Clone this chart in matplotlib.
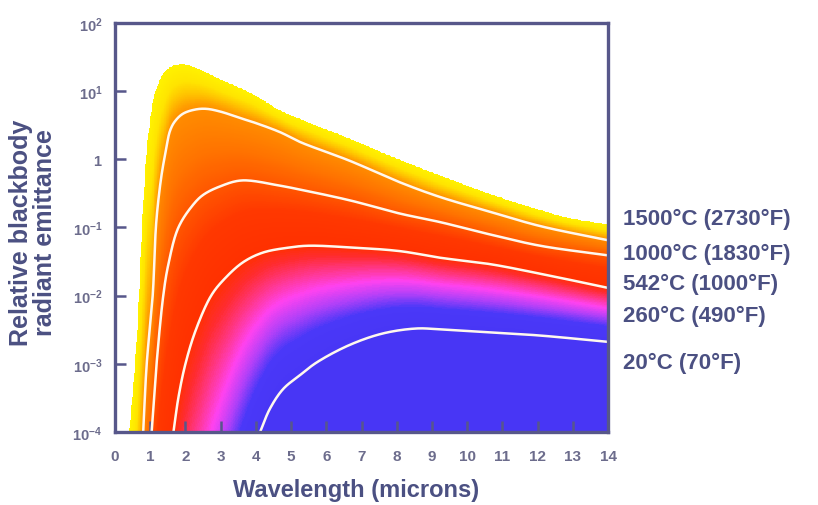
import numpy as np
import matplotlib
matplotlib.use("Agg")
import matplotlib.pyplot as plt
from matplotlib.colors import LinearSegmentedColormap
from matplotlib.ticker import NullLocator

# ---------------- data ----------------
lam_1500 = [0.40, 0.57, 0.68, 0.77, 0.88, 0.98, 1.08, 1.18, 1.37, 1.60, 1.95, 2.30, 2.98,
            3.90, 4.69, 5.25, 6.67, 8.09, 9.23, 10.65, 12.07, 12.83, 14.0]
emit_1500 = [1.0e-4, 1.0e-3, 1.0e-2, 0.10, 1.0, 3.2, 7.1, 11, 18, 23, 25, 22, 15,
             9.1, 5.2, 3.9, 2.0, 0.98, 0.58, 0.31, 0.18, 0.14, 0.11]

lam_1000 = [0.80, 0.90, 1.07, 1.16, 1.23, 1.33, 1.45, 1.56, 1.70, 1.94, 2.30, 2.60, 3.00,
            3.64, 3.93, 4.69, 5.25, 6.67, 8.09, 9.23, 10.65, 12.07, 14.0]
emit_1000 = [1e-4, 1e-3, 1e-2, 0.10, 0.25, 0.63, 1.4, 2.6, 3.6, 4.7, 5.4, 5.5, 5.0,
             3.9, 3.5, 2.5, 1.8, 0.95, 0.46, 0.28, 0.17, 0.105, 0.065]

lam_542 = [1.04, 1.18, 1.37, 1.51, 1.80, 2.20, 2.50, 2.98, 3.60, 4.69, 5.25, 6.67, 8.09,
           9.23, 10.65, 12.07, 14.0]
emit_542 = [1e-4, 1e-3, 1e-2, 0.028, 0.10, 0.21, 0.30, 0.40, 0.49, 0.41, 0.36, 0.25, 0.16,
            0.12, 0.079, 0.054, 0.039]

lam_260 = [1.66, 1.80, 2.00, 2.30, 2.73, 3.08, 3.64, 4.21, 4.97, 5.50, 6.67, 8.09, 9.23,
           10.65, 12.07, 14.0]
emit_260 = [1e-4, 3.2e-4, 1e-3, 3.2e-3, 1e-2, 0.017, 0.031, 0.043, 0.051, 0.054, 0.051,
            0.045, 0.036, 0.029, 0.021, 0.013]

lam_20 = [4.12, 4.40, 4.78, 5.25, 5.73, 6.67, 7.62, 8.57, 9.23, 10.65, 12.07, 14.0]
emit_20 = [1e-4, 2.2e-4, 4.3e-4, 6.8e-4, 1.05e-3, 1.9e-3, 2.8e-3, 3.3e-3, 3.2e-3,
           2.9e-3, 2.6e-3, 2.1e-3]

curve_labels = ["1500°C (2730°F)", "1000°C (1830°F)", "542°C (1000°F)",
                "260°C (490°F)", "20°C (70°F)"]
x_ticks = list(range(0, 15))
y_ticks = [1e-4, 1e-3, 1e-2, 1e-1, 1, 1e1, 1e2]
y_tick_labels = [r"$10^{-4}$", r"$10^{-3}$", r"$10^{-2}$", r"$10^{-1}$", r"$1$",
                 r"$10^{1}$", r"$10^{2}$"]

# ---------------- style ----------------
plt.rcParams["font.family"] = ["Liberation Sans", "DejaVu Sans"]
plt.rcParams["font.weight"] = "bold"
plt.rcParams["mathtext.fontset"] = "custom"
plt.rcParams["mathtext.rm"] = "Liberation Sans:bold"
plt.rcParams["mathtext.bf"] = "Liberation Sans:bold"
plt.rcParams["mathtext.default"] = "bf"

FRAME = "#57578a"
TEXT = "#4b5082"
TICKTXT = "#6c6c8c"

curves = [(lam_1500, emit_1500), (lam_1000, emit_1000), (lam_542, emit_542),
          (lam_260, emit_260), (lam_20, emit_20)]


def smooth(lam, emit, n=24):
    """Centripetal Catmull-Rom line through the read points (x, log10 y)."""
    P = np.column_stack([np.asarray(lam, float) / 14.0,
                         np.log10(np.asarray(emit, float)) / 6.0])
    P = np.vstack([2 * P[0] - P[1], P, 2 * P[-1] - P[-2]])
    out = []
    for i in range(1, len(P) - 2):
        p0, p1, p2, p3 = P[i - 1], P[i], P[i + 1], P[i + 2]
        t0 = 0.0
        t1 = t0 + np.linalg.norm(p1 - p0) ** 0.5
        t2 = t1 + np.linalg.norm(p2 - p1) ** 0.5
        t3 = t2 + np.linalg.norm(p3 - p2) ** 0.5
        t = np.linspace(t1, t2, n, endpoint=False)[:, None]
        a1 = (t1 - t) / (t1 - t0) * p0 + (t - t0) / (t1 - t0) * p1
        a2 = (t2 - t) / (t2 - t1) * p1 + (t - t1) / (t2 - t1) * p2
        a3 = (t3 - t) / (t3 - t2) * p2 + (t - t2) / (t3 - t2) * p3
        b1 = (t2 - t) / (t2 - t0) * a1 + (t - t0) / (t2 - t0) * a2
        b2 = (t3 - t) / (t3 - t1) * a2 + (t - t1) / (t3 - t1) * a3
        out.append((t2 - t) / (t2 - t1) * b1 + (t - t1) / (t2 - t1) * b2)
    out.append(P[-2][None, :])
    Q = np.vstack(out)
    return Q[:, 0] * 14.0, Q[:, 1] * 6.0  # x, log10(y)


smoothed = [smooth(l, e) for l, e in curves]

fig = plt.figure(figsize=(8.18, 5.06), dpi=100)
ax = fig.add_axes([0.1406, 0.1443, 0.6027, 0.8083])
ax.set_yscale("log")
ax.set_xlim(0, 14)
ax.set_ylim(1e-4, 1e2)

# ---------------- gradient fill (colour by band between curves) ----------------
nx, ny = 700, 600
xe = np.linspace(0, 14, nx + 1)
le = np.linspace(-4, 2, ny + 1)
xc = 0.5 * (xe[:-1] + xe[1:])
lc = 0.5 * (le[:-1] + le[1:])


def curve_log_at(sx, sl, xs):
    order = np.argsort(sx)
    sx, sl = sx[order], sl[order]
    out = np.interp(xs, sx, sl)
    s = (sl[5] - sl[0]) / max(sx[5] - sx[0], 1e-6)
    d = np.clip(sx[0] - xs, 0, None)
    ext = sl[0] - s * d - 0.8 * d ** 2  # below-axis continuation, shading only
    return np.where(xs < sx[0], ext, out)


C = np.array([curve_log_at(sx, sl, xc) for sx, sl in smoothed])
for k in range(1, 5):
    C[k] = np.minimum(C[k], C[k - 1] - 1e-6)

level = np.full((ny, nx), np.nan)
for j in range(nx):
    level[:, j] = np.interp(lc, C[::-1, j], [4, 3, 2, 1, 0], left=4, right=np.nan)

stops = [(0.0, "#fff200"), (0.35, "#ffe400"), (0.6, "#ffc600"), (0.85, "#ffa000"),
         (1.0, "#ff8c00"), (1.5, "#ff7400"), (2.0, "#ff5600"), (2.4, "#ff3800"),
         (3.0, "#ff3000"), (3.1, "#ff2c30"), (3.38, "#ff42f0"), (3.55, "#b040f8"),
         (3.72, "#4a38f8"), (4.0, "#4836f5")]
cmap = LinearSegmentedColormap.from_list("bb", [(p / 4.0, c) for p, c in stops])
ax.pcolormesh(xe, 10 ** le, np.ma.masked_invalid(level), cmap=cmap, vmin=0, vmax=4,
              shading="flat", rasterized=True, zorder=1)

# ---------------- white temperature curves ----------------
for sx, sl in smoothed[1:]:
    ax.plot(sx, 10 ** sl, color="#fff8ee", lw=1.8, zorder=3, solid_capstyle="round")

# ---------------- axes styling ----------------
for sp in ax.spines.values():
    sp.set_color(FRAME)
    sp.set_linewidth(2.4)
    sp.set_zorder(5)

ax.set_xticks(x_ticks)
ax.set_xticklabels([str(v) for v in x_ticks])
ax.set_yticks(y_ticks)
ax.set_yticklabels(y_tick_labels)
ax.yaxis.set_minor_locator(NullLocator())
ax.xaxis.set_minor_locator(NullLocator())
ax.tick_params(axis="both", direction="in", length=8, width=1.8, color=FRAME,
               top=False, right=False)
ax.tick_params(axis="x", labelsize=11, labelcolor=TICKTXT, pad=12)
ax.tick_params(axis="y", labelsize=10.5, labelcolor=TICKTXT, pad=9)

ax.set_ylabel("Relative blackbody\nradiant emittance", fontsize=18, fontweight="bold",
              color=TEXT, linespacing=1.0)
ax.yaxis.set_label_coords(-0.118, 0.49)
ax.set_xlabel("Wavelength (microns)", fontsize=17, fontweight="bold", color=TEXT)
ax.xaxis.set_label_coords(0.489, -0.112)

label_y = [0.522, 0.437, 0.362, 0.284, 0.170]
for txt, yy in zip(curve_labels, label_y):
    ax.text(1.030, yy, txt, transform=ax.transAxes, ha="left", va="center",
            fontsize=16, fontweight="bold", color=TEXT)

fig.savefig("out.png", dpi=100, facecolor="white")
